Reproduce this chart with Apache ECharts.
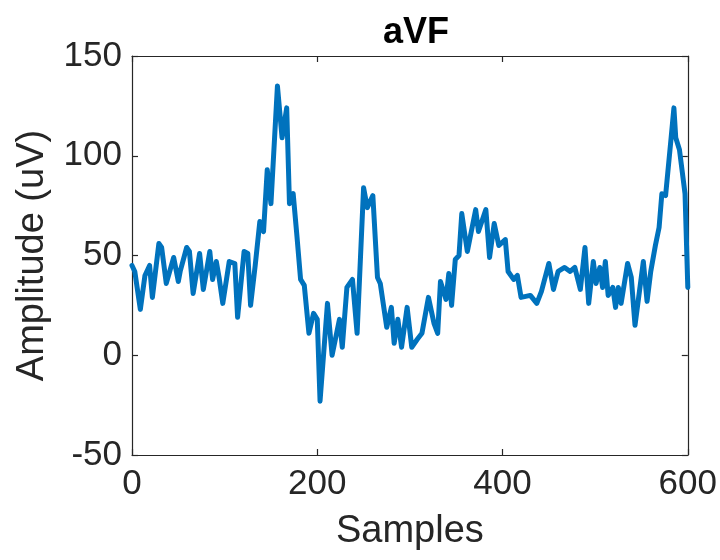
<!DOCTYPE html>
<html>
<head>
<meta charset="utf-8">
<script src="https://cdn.jsdelivr.net/npm/echarts@6/dist/echarts.min.js"></script>
<style>
  html, body { margin: 0; padding: 0; background: #fff; }
  #chart { width: 720px; height: 560px; }
</style>
</head>
<body>
<div id="chart"></div>
<script>
// aVF lead trace: sample index and amplitude in microvolts
const samples = [
  0, 3, 9, 14, 19, 22, 29, 32, 37, 45, 50, 52, 59, 62, 66, 73, 77, 84, 87, 91,
  94, 98, 105, 111, 114, 121, 125, 128, 133, 138, 142, 146, 150, 157, 162, 167, 170, 174, 178, 182,
  186, 191, 196, 200, 203, 211, 216, 224, 227, 232, 238, 243, 250, 254, 260, 265, 268, 275, 280, 283,
  287, 291, 297, 299, 302, 308, 313, 320, 326, 330, 333, 339, 342, 345, 349, 353, 356, 362, 365, 371,
  374, 382, 386, 391, 396, 403, 406, 412, 416, 420, 430, 437, 442, 450, 455, 460, 467, 473, 478, 484,
  489, 493, 498, 501, 505, 508, 511, 514, 519, 522, 525, 528, 535, 539, 543, 552, 556, 560, 565, 569,
  572, 576, 582, 585, 587, 591, 597, 600
];
const amplitude = [
  45, 42, 23, 40, 45, 29, 56, 54, 36, 49, 37, 42, 54, 52, 31, 51, 33, 52, 38, 47,
  39, 26, 47, 46, 19, 52, 51, 25, 45, 67, 62, 93, 76, 135, 109, 124, 76, 81, 60, 38,
  35, 11, 21, 18, -23, 26, 0, 18, 4, 34, 38, 11, 84, 74, 80, 39, 36, 14, 24, 6,
  18, 4, 24, 25, 4, 8, 11, 29, 16, 11, 37, 28, 41, 25, 48, 50, 71, 52, 59, 73,
  62, 73, 49, 66, 55, 58, 42, 38, 40, 29, 30, 26, 32, 46, 33, 42, 44, 42, 44, 33,
  54, 26, 47, 36, 44, 34, 47, 30, 34, 24, 34, 26, 46, 39, 15, 47, 27, 42, 55, 64,
  81, 80, 109, 124, 109, 103, 81, 34
];
const xTicks = { min: 0, max: 600, step: 200 };
const yTicks = { min: -50, max: 150, step: 50 };

const ink = '#262626';
const fontFamily = '"Liberation Sans", Arial, Helvetica, sans-serif';

const chart = echarts.init(document.getElementById('chart'), null, { renderer: 'canvas' });

// shared style for the four sides of the boxed frame
const frameAxis = {
  axisLine: { show: true, onZero: false, lineStyle: { color: ink, width: 1.2 } },
  axisTick: { show: true, inside: true, length: 6, lineStyle: { color: ink, width: 1.2 } },
  splitLine: { show: false },
  minorTick: { show: false }
};

chart.setOption({
  animation: false,
  backgroundColor: '#ffffff',
  title: {
    text: 'aVF',
    left: 411,
    top: 10,
    textAlign: 'center',
    textStyle: { fontFamily, fontSize: 36, fontWeight: 'bold', color: '#000' }
  },
  grid: { left: 132, right: 30, top: 56, bottom: 105, containLabel: false },
  xAxis: [
    Object.assign({}, frameAxis, {
      type: 'value', position: 'bottom',
      min: xTicks.min, max: xTicks.max, interval: xTicks.step,
      name: 'Samples', nameLocation: 'middle', nameGap: 58,
      nameTextStyle: { fontFamily, fontSize: 38, color: ink },
      axisLabel: { fontFamily, fontSize: 35, color: ink, margin: 12 }
    }),
    Object.assign({}, frameAxis, {
      type: 'value', position: 'top',
      min: xTicks.min, max: xTicks.max, interval: xTicks.step,
      axisLabel: { show: false }
    })
  ],
  yAxis: [
    Object.assign({}, frameAxis, {
      type: 'value', position: 'left',
      min: yTicks.min, max: yTicks.max, interval: yTicks.step,
      name: 'Amplitude (uV)', nameLocation: 'middle', nameGap: 80, nameRotate: 90,
      nameTextStyle: { fontFamily, fontSize: 38, color: ink },
      axisLabel: { fontFamily, fontSize: 35, color: ink, margin: 10 }
    }),
    Object.assign({}, frameAxis, {
      type: 'value', position: 'right',
      min: yTicks.min, max: yTicks.max, interval: yTicks.step,
      axisLabel: { show: false }
    })
  ],
  series: [{
    type: 'line',
    xAxisIndex: 0,
    yAxisIndex: 0,
    data: samples.map((s, i) => [s, amplitude[i]]),
    showSymbol: false,
    smooth: false,
    clip: true,
    lineStyle: { color: '#0072BD', width: 5, join: 'round', cap: 'round' }
  }]
});
</script>
</body>
</html>
